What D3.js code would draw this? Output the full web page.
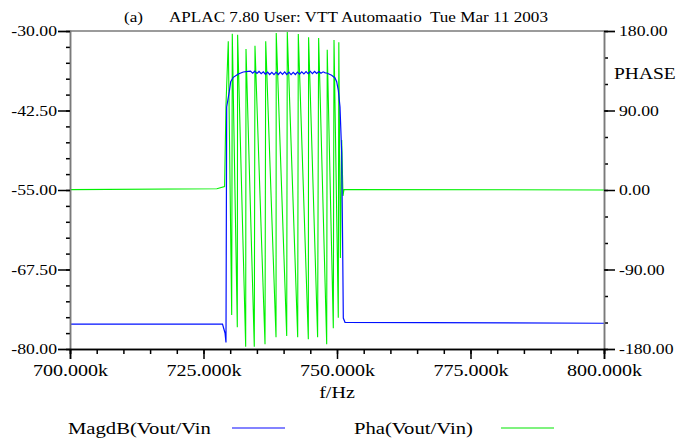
<!DOCTYPE html>
<html>
<head>
<meta charset="utf-8">
<script src="https://cdn.jsdelivr.net/npm/d3@7"></script>
<style>
  body { margin: 0; background: #fff; }
</style>
</head>
<body>
<svg id="chart" width="695" height="439"></svg>
<script>
// ---- data ----
var freqTicks = [700, 725, 750, 775, 800];          // kHz
var magTicks = [-30, -42.5, -55, -67.5, -80];       // dB
var phaseTicks = [180, 90, 0, -90, -180];           // degrees

// MagdB(Vout/Vin) : [kHz, dB]
var magdB = [
  [700, -76.1], [728.56, -76.1], [729.03, -77.48], [729.21, -78.98],
  [729.34, -41.95], [729.83, -39.54], [730.09, -37.97], [730.58, -37.28],
  [731.52, -36.76], [732.45, -36.45], [733.39, -36.34],
  [733.8, -36.30], [734.2, -36.62], [734.6, -36.32], [735.0, -36.66],
  [735.4, -36.36], [735.8, -36.72], [736.2, -36.42], [736.6, -36.80],
  [737.0, -36.46], [737.4, -36.84], [737.8, -36.50], [738.2, -36.86],
  [738.6, -36.48], [739.0, -36.84], [739.4, -36.46], [739.8, -36.82],
  [740.2, -36.44], [740.6, -36.84], [741.0, -36.48], [741.4, -36.86],
  [741.8, -36.50], [742.2, -36.84], [742.6, -36.46], [743.0, -36.78],
  [743.4, -36.42], [743.8, -36.74], [744.2, -36.38], [744.6, -36.72],
  [745.0, -36.36], [745.4, -36.70], [745.8, -36.36], [746.2, -36.68],
  [746.6, -36.38], [747.0, -36.64], [747.4, -36.42], [747.8, -36.58],
  [748.07, -36.60], [749.0, -36.97], [749.63, -37.39], [749.94, -37.97],
  [750.24, -39.28], [750.56, -41.90], [750.88, -49.18], [751.07, -64.91],
  [751.18, -75.13], [751.5, -75.80], [800, -75.95]
];

// Pha(Vout/Vin) : [kHz, degrees]
var phaseDeg = [
  [700, 0.4], [727.5, 1.5], [728.95, 3.9], [729.21, 96.2],
  [729.64, 168.3], [730.28, -141.5], [730.39, 176.9], [731.33, -155.4],
  [731.39, 175.8], [732.90, -177.4], [732.96, 159.6], [734.51, -177.4],
  [734.64, 163.4], [736.52, -174.7], [736.65, 168.3], [738.58, -166.8],
  [738.62, 177.7], [740.58, -165.3], [740.69, 178.9], [742.64, -166.8],
  [742.75, 176.6], [744.63, -169.0], [744.68, 172.9], [746.37, -166.8],
  [746.56, 172.1], [748.07, -174.7], [748.17, 158.8], [749.31, -156.6],
  [749.44, 169.8], [750.24, -144.6], [750.34, 167.2], [750.64, -77.0],
  [750.88, 56.6], [751.12, -6.8], [751.31, 0.6], [800, 0.0]
];

// ---- layout ----
var L = 70, R = 604, T = 31, B = 349;
var FONT = '"Liberation Serif", "Times New Roman", "DejaVu Serif", serif';
var svg = d3.select('#chart');

var x = d3.scaleLinear().domain([700, 800]).range([L, R]);
var yMag = d3.scaleLinear().domain([-80, -30]).range([B, T]);
var yPha = d3.scaleLinear().domain([-180, 180]).range([B, T]);

// the original renderer draws its Times text a bit wide
function serif(sel, size) {
  sel.style('font-family', FONT).style('font-size', size + 'px')
    .style('white-space', 'pre').attr('fill', '#000');
  sel.each(function() {
    var w = this.getComputedTextLength();
    d3.select(this).attr('textLength', w * 1.18).attr('lengthAdjust', 'spacingAndGlyphs');
  });
}

// frame top line
svg.append('line').attr('x1', L).attr('x2', R).attr('y1', T).attr('y2', T)
  .attr('stroke', '#7a7a7a').attr('stroke-width', 1.5);

svg.append('clipPath').attr('id', 'plot').append('rect')
  .attr('x', L).attr('y', T - 1).attr('width', R - L).attr('height', B - T + 2);

// curves
var g = svg.append('g').attr('clip-path', 'url(#plot)');
g.append('path').datum(phaseDeg)
  .attr('fill', 'none').attr('stroke', '#00f000').attr('stroke-width', 1.1)
  .attr('d', d3.line().x(function(d) { return x(d[0]); }).y(function(d) { return yPha(d[1]); }));
g.append('path').datum(magdB)
  .attr('fill', 'none').attr('stroke', '#0010ff').attr('stroke-width', 1.2)
  .attr('d', d3.line().x(function(d) { return x(d[0]); }).y(function(d) { return yMag(d[1]); }));

function fmt2(d) { return d.toFixed(2); }

// left axis
var leftMinor = svg.append('g').attr('transform', 'translate(' + L + ',0)')
  .call(d3.axisLeft(yMag).tickValues(d3.range(-80, -29, 2.5)).tickSize(4).tickFormat(''));
var left = svg.append('g').attr('transform', 'translate(' + L + ',0)')
  .call(d3.axisLeft(yMag).tickValues(magTicks).tickSize(12).tickPadding(1).tickFormat(fmt2));

// right axis
var rightMinor = svg.append('g').attr('transform', 'translate(' + R + ',0)')
  .call(d3.axisRight(yPha).tickValues(d3.range(-180, 181, 30)).tickSize(4).tickFormat(''));
var right = svg.append('g').attr('transform', 'translate(' + R + ',0)')
  .call(d3.axisRight(yPha).tickValues(phaseTicks).tickSize(11).tickPadding(4).tickFormat(fmt2));

// bottom axis
var bottomMinor = svg.append('g').attr('transform', 'translate(0,' + B + ')')
  .call(d3.axisBottom(x).tickValues(d3.range(700, 801, 5)).tickSize(5).tickFormat(''));
var bottom = svg.append('g').attr('transform', 'translate(0,' + B + ')')
  .call(d3.axisBottom(x).tickValues(freqTicks).tickSize(10).tickPadding(5)
    .tickFormat(function(d) { return d.toFixed(3) + 'k'; }));

[leftMinor, left, rightMinor, right].forEach(function(a) {
  a.select('.domain').attr('stroke', '#7a7a7a').attr('stroke-width', 1.5);
});
[bottomMinor, bottom].forEach(function(a) {
  a.select('.domain').attr('stroke', '#000').attr('stroke-width', 1.5);
});
svg.selectAll('.tick line').attr('stroke', '#000').attr('stroke-width', 1.5);

left.selectAll('text').call(serif, 15);
right.selectAll('text').call(serif, 15);
bottom.selectAll('text').call(serif, 17);

// titles
svg.append('text').attr('x', 124).attr('y', 22).text('(a)').call(serif, 14.5);
svg.append('text').attr('x', 169).attr('y', 22)
  .text('APLAC 7.80 User: VTT Automaatio  Tue Mar 11 2003').call(serif, 14.5);
svg.append('text').attr('x', 614).attr('y', 79).text('PHASE').call(serif, 16.5);
svg.append('text').attr('x', (L + R) / 2).attr('y', 398).attr('text-anchor', 'middle')
  .text('f/Hz').call(serif, 17);

// legend
svg.append('text').attr('x', 68).attr('y', 434).text('MagdB(Vout/Vin').call(serif, 17.5);
svg.append('line').attr('x1', 232).attr('x2', 285).attr('y1', 428).attr('y2', 428)
  .attr('stroke', '#5a5aff').attr('stroke-width', 1.5);
svg.append('text').attr('x', 354).attr('y', 434).text('Pha(Vout/Vin)').call(serif, 17.5);
svg.append('line').attr('x1', 501).attr('x2', 554).attr('y1', 428).attr('y2', 428)
  .attr('stroke', '#55ee55').attr('stroke-width', 1.5);
</script>
</body>
</html>
